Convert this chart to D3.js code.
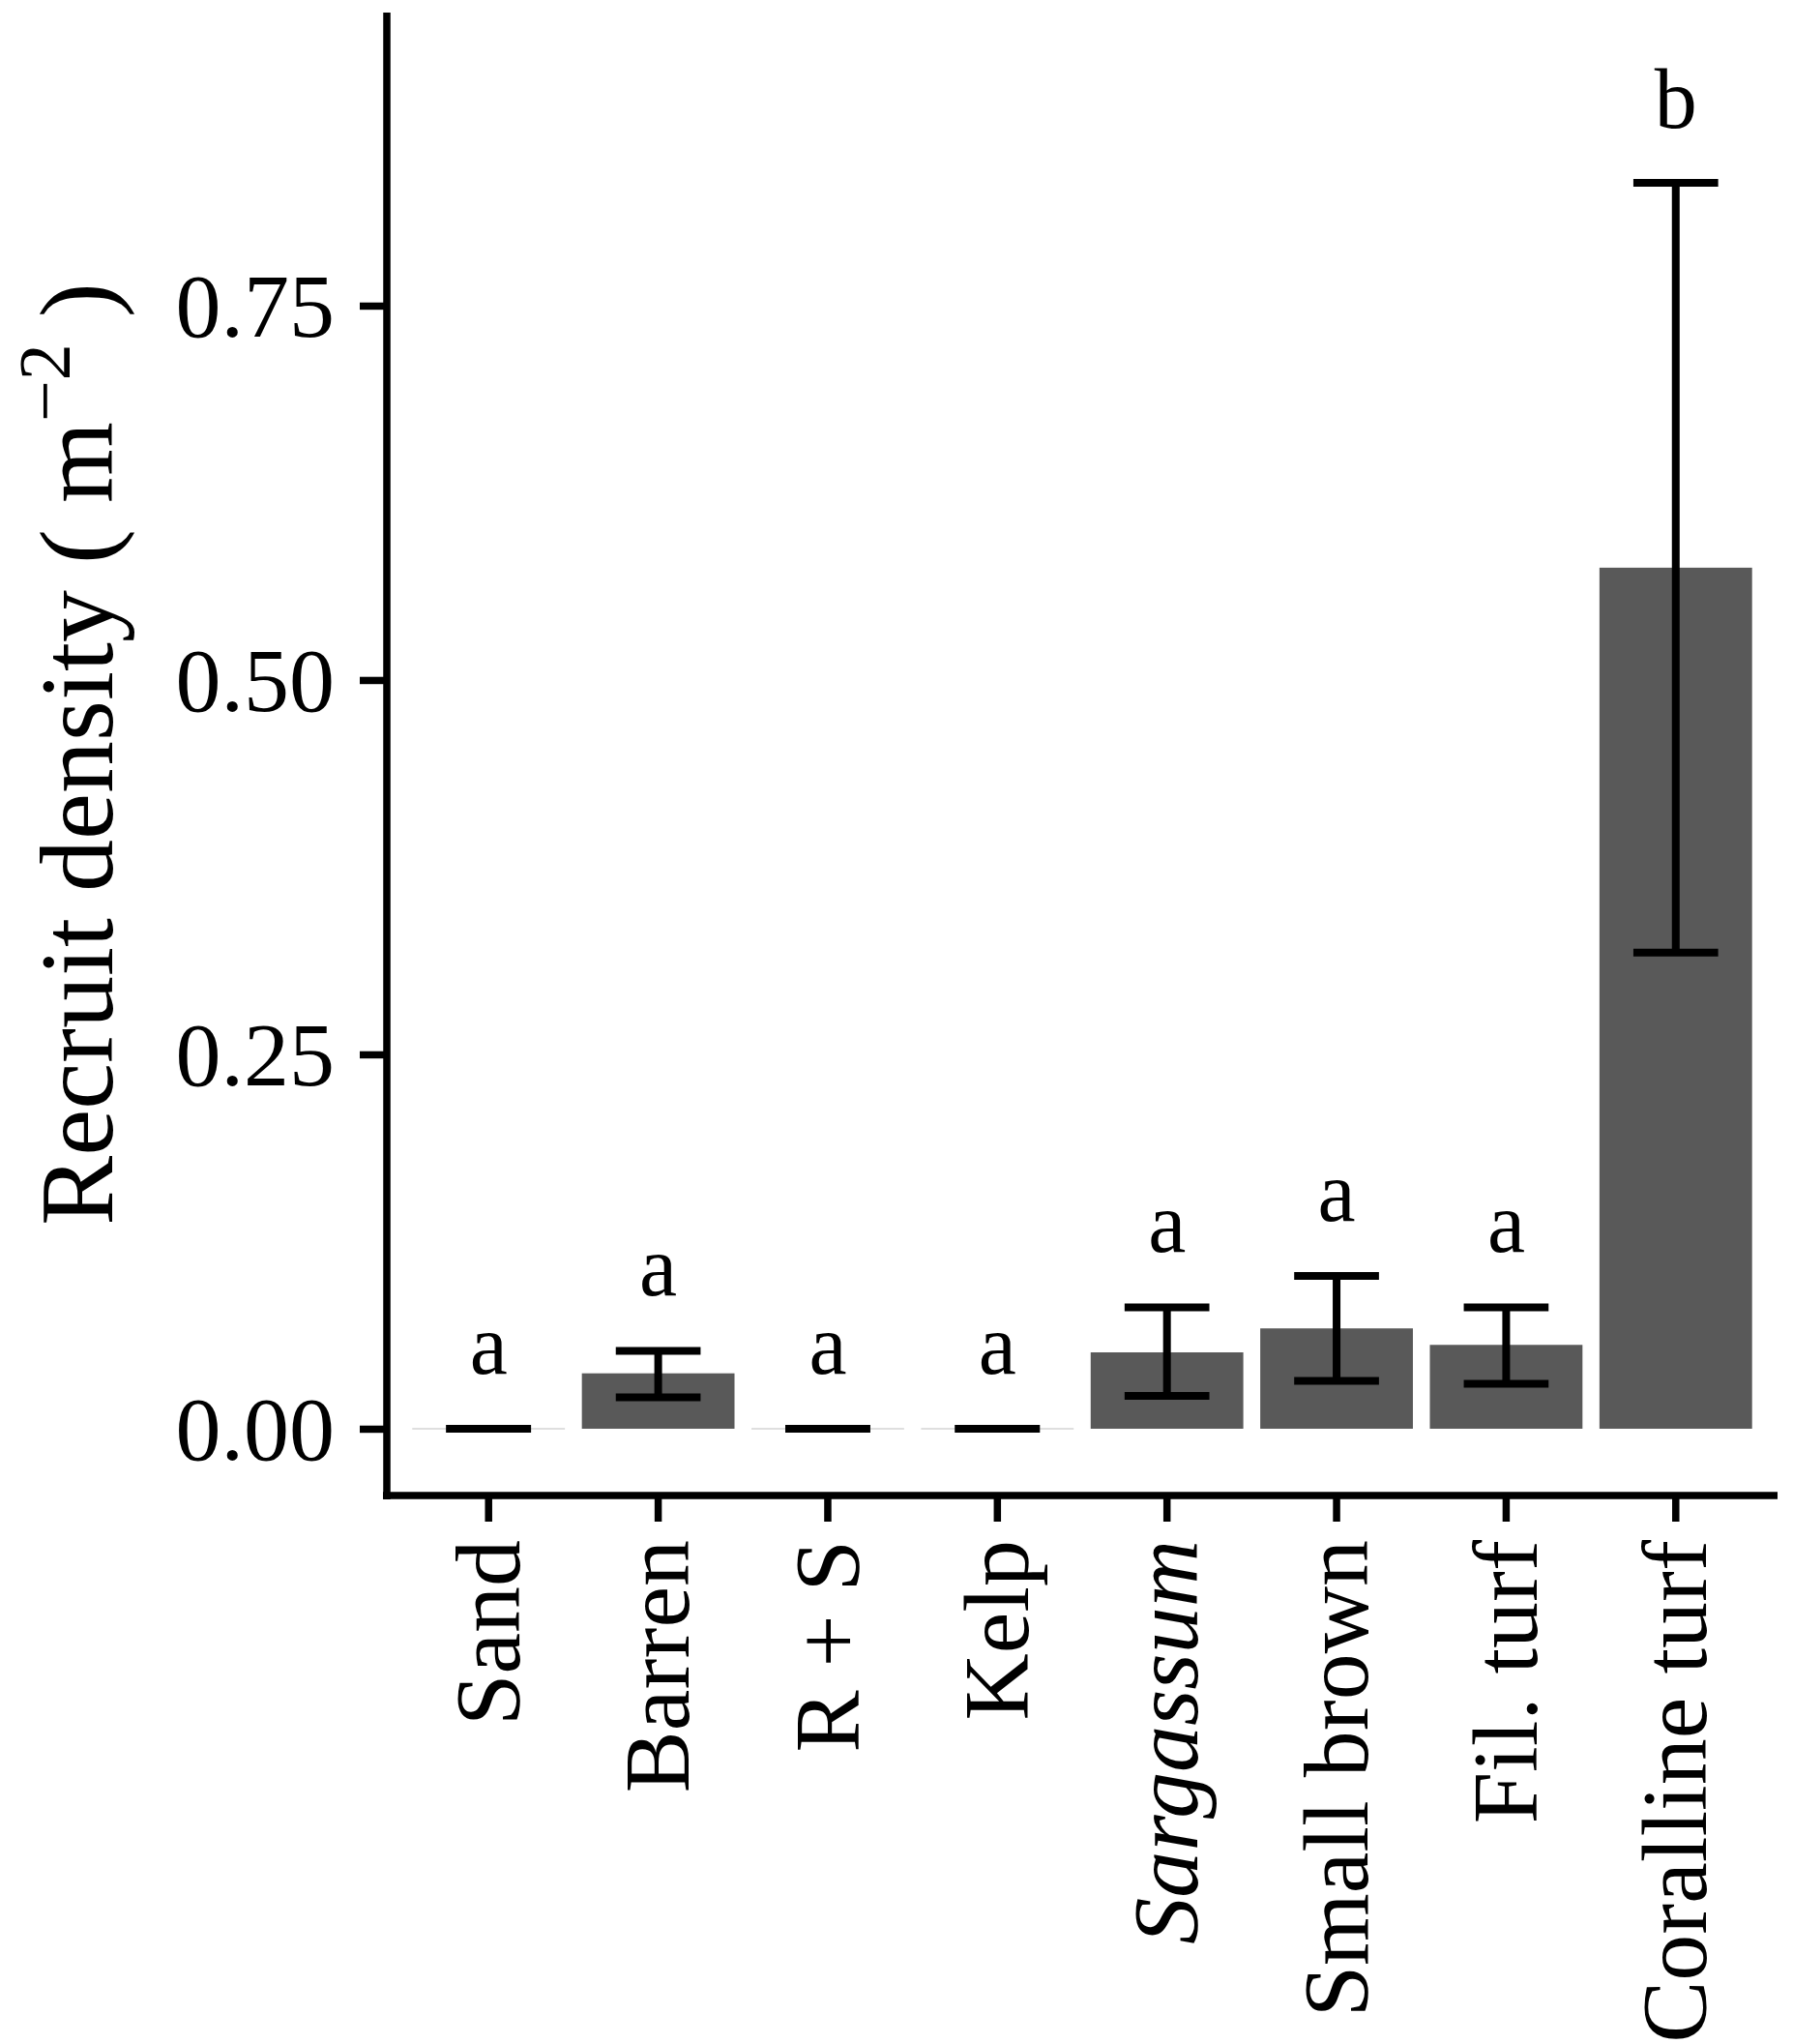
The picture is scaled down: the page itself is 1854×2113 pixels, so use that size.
<!DOCTYPE html>
<html>
<head>
  <title>Recruit density by habitat</title>
  <script src="https://d3js.org/d3.v7.min.js"></script>
  <style>
    body { margin: 0; background: #fff; }
    text { font-family: "Liberation Serif", "Times New Roman", serif; fill: #000; }
  </style>
</head>
<body>
  <div id="chart"></div>
  <script>
    // values
    const habitats = ["Sand", "Barren", "R + S", "Kelp", "Sargassum", "Small brown", "Fil. turf", "Coralline turf"];
    const means    = [0, 0.037, 0, 0, 0.051, 0.067, 0.056, 0.575];
    const lower    = [0, 0.021, 0, 0, 0.022, 0.032, 0.030, 0.318];
    const upper    = [0, 0.052, 0, 0, 0.081, 0.102, 0.081, 0.832];
    const letters  = ["a", "a", "a", "a", "a", "a", "a", "b"];
    const yTicks   = [0, 0.25, 0.5, 0.75];

    const data = habitats.map((h, i) => ({
      habitat: h, mean: means[i], lo: lower[i], hi: upper[i], letter: letters[i]
    }));

    const W = 1854, H = 2113;
    const panel = { left: 400, right: 1838, top: 13, bottom: 1546 };

    const svg = d3.select("#chart").append("svg")
      .attr("width", W)
      .attr("height", H);

    const x = d3.scaleBand()
      .domain(habitats)
      .range([panel.left, panel.right])
      .paddingInner(0)
      .paddingOuter(0.1);

    const y = d3.scaleLinear()
      .domain([-0.0446, 0.9457])
      .range([panel.bottom, panel.top]);

    const step = x.step();
    const cx = d => x(d.habitat) + x.bandwidth() / 2;
    const barW = step * 0.9;
    const capW = step * 0.5;

    // bars
    svg.selectAll(".bar")
      .data(data.filter(d => d.mean > 0))
      .enter()
      .append("rect")
      .attr("class", "bar")
      .attr("x", d => cx(d) - barW / 2)
      .attr("width", barW)
      .attr("y", d => y(d.mean))
      .attr("height", d => y(0) - y(d.mean))
      .attr("fill", "#595959");

    // zero-height bars leave a faint line
    svg.selectAll(".zero")
      .data(data.filter(d => d.mean === 0))
      .enter()
      .append("line")
      .attr("x1", d => cx(d) - barW / 2)
      .attr("x2", d => cx(d) + barW / 2)
      .attr("y1", y(0))
      .attr("y2", y(0))
      .attr("stroke", "#d4d4d4")
      .attr("stroke-width", 1.5);

    // error bars
    const eb = svg.selectAll(".err")
      .data(data)
      .enter()
      .append("g")
      .attr("class", "err")
      .attr("stroke", "#000")
      .attr("stroke-width", 8);

    eb.append("line")
      .attr("x1", cx).attr("x2", cx)
      .attr("y1", d => y(d.lo)).attr("y2", d => y(d.hi));
    eb.append("line")
      .attr("x1", d => cx(d) - capW / 2).attr("x2", d => cx(d) + capW / 2)
      .attr("y1", d => y(d.hi)).attr("y2", d => y(d.hi));
    eb.append("line")
      .attr("x1", d => cx(d) - capW / 2).attr("x2", d => cx(d) + capW / 2)
      .attr("y1", d => y(d.lo)).attr("y2", d => y(d.lo));

    // group letters
    svg.selectAll(".letter")
      .data(data)
      .enter()
      .append("text")
      .attr("class", "letter")
      .attr("x", cx)
      .attr("y", d => y(d.hi + 0.037))
      .attr("text-anchor", "middle")
      .style("font-size", "88px")
      .text(d => d.letter);

    // y axis
    const yAxis = svg.append("g")
      .attr("transform", "translate(" + panel.left + ",0)")
      .call(d3.axisLeft(y).tickValues(yTicks).tickSize(28).tickPadding(26)
        .tickFormat(d3.format(".2f")));
    yAxis.select(".domain").remove();
    yAxis.append("line")
      .attr("x1", 0).attr("x2", 0)
      .attr("y1", panel.top).attr("y2", panel.bottom + 4)
      .attr("stroke", "#000").attr("stroke-width", 7.5);
    yAxis.selectAll(".tick line").attr("stroke-width", 7.5);
    yAxis.selectAll(".tick text")
      .style("font-size", "94px")
      .attr("dy", "0.34em")
      .attr("fill", "#000");

    // x axis
    const xAxis = svg.append("g")
      .attr("transform", "translate(0," + panel.bottom + ")")
      .call(d3.axisBottom(x).tickSize(27).tickSizeOuter(0));
    xAxis.select(".domain").remove();
    xAxis.append("line")
      .attr("x1", panel.left - 4).attr("x2", panel.right)
      .attr("y1", 0).attr("y2", 0)
      .attr("stroke", "#000").attr("stroke-width", 7.5);
    xAxis.selectAll(".tick line").attr("stroke-width", 7.5);
    xAxis.selectAll(".tick text")
      .style("font-size", "96px")
      .style("font-style", d => d === "Sargassum" ? "italic" : "normal")
      .attr("text-anchor", "end")
      .attr("transform", "rotate(-90)")
      .attr("x", -46)
      .attr("y", 0)
      .attr("dy", "0.33em")
      .attr("fill", "#000");

    // y axis title
    const title = svg.append("text")
      .attr("transform", "translate(116," + ((panel.top + panel.bottom) / 2) + ") rotate(-90)")
      .attr("text-anchor", "middle")
      .style("font-size", "108px");
    title.append("tspan").text("Recruit density ( m");
    title.append("tspan").attr("dy", -44).style("font-size", "76px").text("\u22122");
    title.append("tspan").attr("dy", 44).text(" )");
  </script>
</body>
</html>
